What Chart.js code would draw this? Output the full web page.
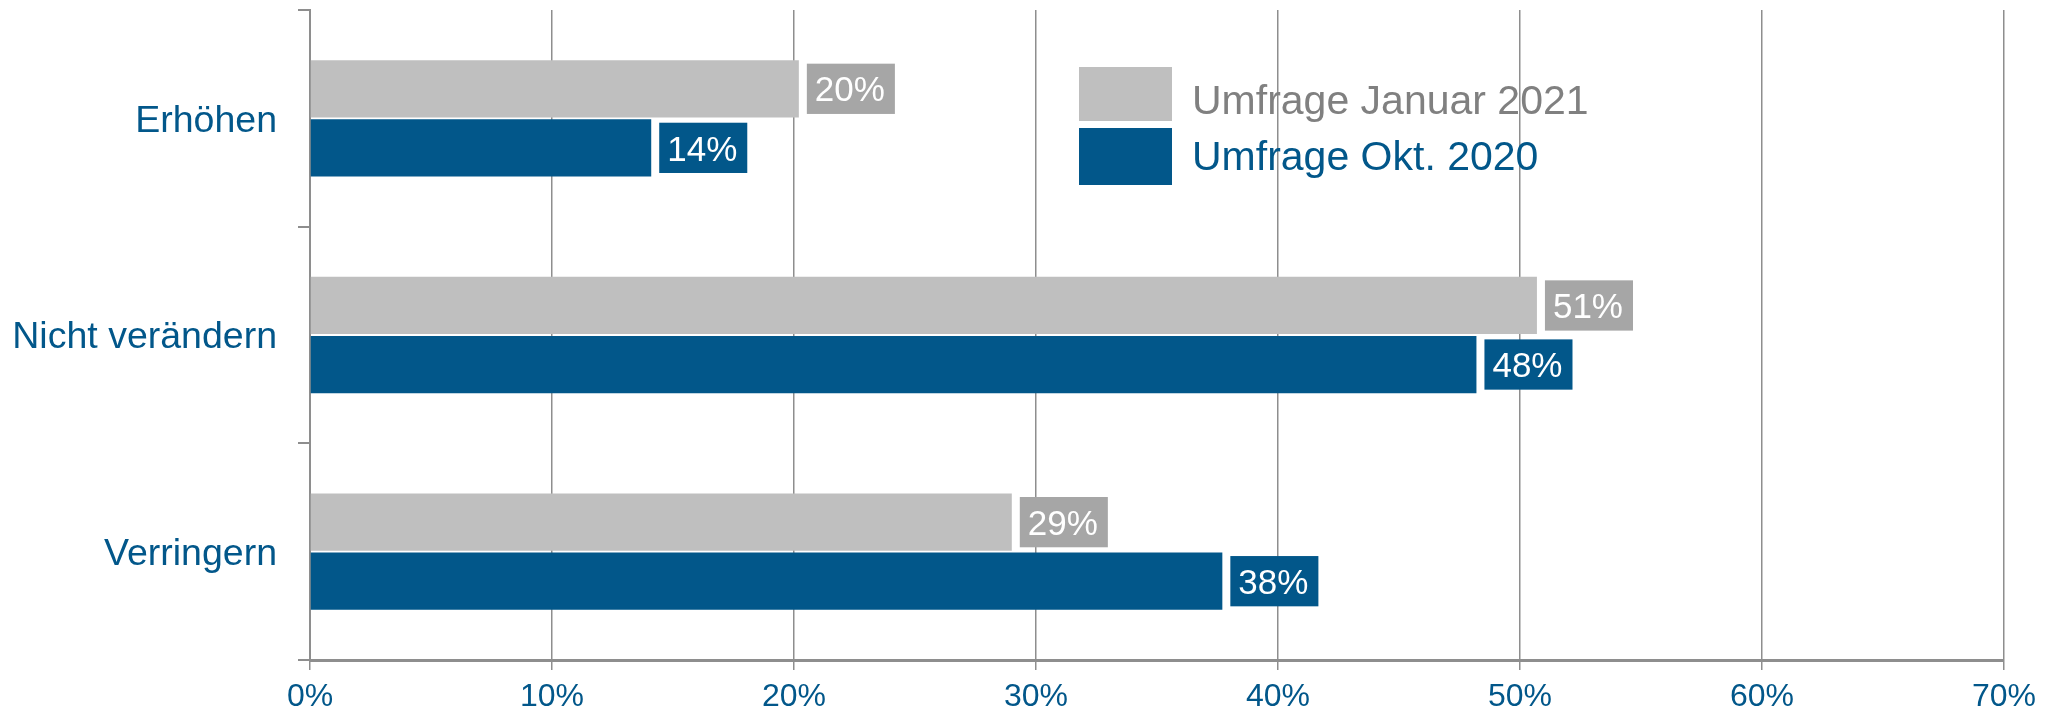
<!DOCTYPE html>
<html>
<head>
<meta charset="utf-8">
<script src="https://cdn.jsdelivr.net/npm/chart.js@4/dist/chart.umd.min.js"></script>
<style>
  html, body { margin: 0; padding: 0; background: #fff; }
  #wrap { width: 2060px; height: 715px; }
</style>
</head>
<body>
<div id="wrap"><canvas id="chart" width="2060" height="715"></canvas></div>
<script>
const categories = ["Erhöhen", "Nicht verändern", "Verringern"];
const januar2021 = [20.2, 50.7, 29.0];
const okt2020 = [14.1, 48.2, 37.7];
const xTicks = [0, 10, 20, 30, 40, 50, 60, 70];

const BLUE = "#02578a";
const GRAY = "#bfbfbf";
const GRID = "#8e8e8e";
const FONT = "'Liberation Sans', Arial, sans-serif";

// value boxes to the right of each bar
const valueBoxes = {
    id: "valueBoxes",
    afterDatasetsDraw(chart) {
        const ctx = chart.ctx;
        ctx.save();
        ctx.font = "35px " + FONT;
        ctx.textBaseline = "middle";
        ctx.textAlign = "left";
        chart.data.datasets.forEach((ds, di) => {
            const meta = chart.getDatasetMeta(di);
            meta.data.forEach((bar, i) => {
                const txt = Math.round(ds.data[i]) + "%";
                const w = ctx.measureText(txt).width + 18;
                const h = bar.height - 7;
                const x = bar.x + 8;
                ctx.fillStyle = ds.labelBox;
                ctx.fillRect(x, bar.y - h / 2, w, h);
                ctx.fillStyle = "#fff";
                ctx.fillText(txt, x + 8, bar.y + 3);
            });
        });
        ctx.restore();
    }
};

// legend placed inside the plot area
const innerLegend = {
    id: "innerLegend",
    afterDraw(chart) {
        const ctx = chart.ctx;
        ctx.save();
        ctx.font = "41px " + FONT;
        ctx.textBaseline = "alphabetic";
        const rows = [{ y: 67, h: 54, base: 114 }, { y: 128, h: 57, base: 170 }];
        chart.data.datasets.forEach((ds, i) => {
            const r = rows[i];
            ctx.fillStyle = ds.backgroundColor;
            ctx.fillRect(1079, r.y, 93, r.h);
            ctx.fillStyle = ds.legendText;
            ctx.fillText(ds.label, 1192, r.base);
        });
        ctx.restore();
    }
};

new Chart(document.getElementById("chart"), {
    type: "bar",
    data: {
        labels: categories,
        datasets: [
            {
                label: "Umfrage Januar 2021",
                data: januar2021,
                backgroundColor: GRAY,
                labelBox: "#a6a6a6",
                legendText: "#808080",
                barPercentage: 0.97,
                categoryPercentage: 0.545
            },
            {
                label: "Umfrage Okt. 2020",
                data: okt2020,
                backgroundColor: BLUE,
                labelBox: BLUE,
                legendText: BLUE,
                barPercentage: 0.97,
                categoryPercentage: 0.545
            }
        ]
    },
    options: {
        indexAxis: "y",
        responsive: false,
        animation: false,
        layout: { padding: { top: 10, right: 56, left: 0, bottom: 0 } },
        plugins: {
            legend: { display: false },
            tooltip: { enabled: false }
        },
        scales: {
            x: {
                min: 0,
                max: 70,
                afterBuildTicks(axis) {
                    axis.ticks = xTicks.map(v => ({ value: v }));
                },
                afterFit(axis) {
                    axis.height = 55;
                    axis.paddingLeft = 0;
                    axis.paddingRight = 0;
                },
                border: { display: true, color: GRID, width: 3 },
                grid: { color: GRID, lineWidth: 1.5, drawTicks: true, tickLength: 10, tickColor: GRID },
                ticks: {
                    color: BLUE,
                    padding: 8,
                    maxRotation: 0,
                    font: { family: FONT, size: 32 },
                    callback: v => v + "%"
                }
            },
            y: {
                afterFit(axis) {
                    axis.width = 310;
                    axis.paddingTop = 0;
                    axis.paddingBottom = 0;
                },
                border: { display: true, color: GRID, width: 2 },
                grid: { drawOnChartArea: false, drawTicks: true, tickLength: 12, tickColor: GRID, lineWidth: 2, offset: true },
                ticks: {
                    color: BLUE,
                    padding: 21,
                    labelOffset: 3,
                    font: { family: FONT, size: 37.5 }
                }
            }
        }
    },
    plugins: [valueBoxes, innerLegend]
});
</script>
</body>
</html>
